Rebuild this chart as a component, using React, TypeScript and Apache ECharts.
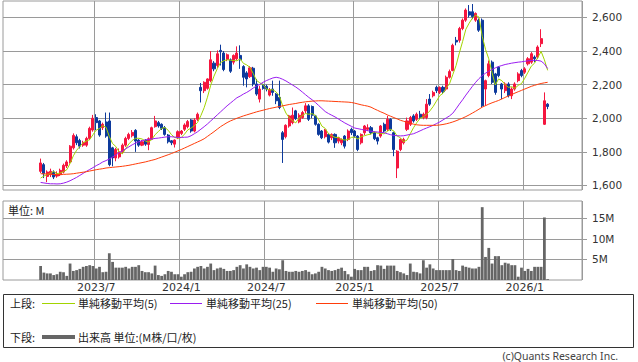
import React, { useEffect, useRef } from 'react';
import * as echarts from 'echarts';

// ---- data (weekly candles, first week 2023-03-06) ----
const FIRST_WEEK = '2023-03-06';
const PAD_BEFORE = 11;
const PAD_AFTER = 10;

const opens = [
  1684, 1724, 1654, 1664, 1680, 1656, 1664, 1680, 1716, 1740,
  1824, 1890, 1868, 1840, 1840, 1880, 1930, 2004, 1984, 1944,
  1978, 1984, 1824, 1764, 1770, 1800, 1840, 1880, 1896, 1928,
  1870, 1840, 1870, 1844, 1874, 1950, 1974, 1964, 1944, 1900,
  1866, 1846, 1884, 1910, 1934, 1950, 1990, 1924, 1994, 2184,
  2164, 2178, 2224, 2328, 2314, 2404, 2388, 2350, 2348, 2334,
  2354, 2374, 2308, 2270, 2248, 2298, 2204, 2114, 2198, 2190,
  2138, 2174, 2144, 2124, 1914, 1890, 1954, 1974, 2044, 1978,
  2004, 2044, 2074, 2070, 2014, 1964, 1924, 1890, 1904, 1884,
  1904, 1864, 1854, 1894, 1874, 1934, 1924, 1894, 1854, 1914,
  1934, 1944, 1914, 1884, 1894, 1964, 1934, 1994, 1914, 1704,
  1814, 1854, 1934, 1964, 2014, 1994, 2024, 2004, 2004, 2114,
  2134, 2184, 2154, 2184, 2174, 2244, 2284, 2464, 2464, 2534,
  2584, 2634, 2634, 2584, 2584, 2584, 2174, 2254, 2334, 2264,
  2304, 2204, 2164, 2204, 2134, 2174, 2224, 2284, 2274, 2324,
  2334, 2364, 2364, 2444, 1964, 2084,
];
const closes = [
  1734, 1670, 1680, 1684, 1650, 1668, 1690, 1720, 1740, 1834,
  1898, 1854, 1834, 1856, 1880, 1940, 2000, 1974, 1900, 1964,
  1894, 1724, 1764, 1814, 1800, 1840, 1880, 1904, 1916, 1864,
  1840, 1860, 1846, 1878, 1944, 1984, 1954, 1940, 1904, 1860,
  1854, 1870, 1920, 1924, 1960, 1980, 1924, 1990, 2024, 2164,
  2214, 2234, 2348, 2294, 2384, 2396, 2290, 2378, 2280, 2374,
  2388, 2348, 2244, 2234, 2300, 2204, 2144, 2174, 2178, 2174,
  2170, 2154, 2104, 2064, 1874, 1958, 2014, 2018, 1998, 2018,
  2034, 2074, 1994, 2018, 1964, 1904, 1884, 1930, 1858, 1904,
  1854, 1884, 1874, 1834, 1924, 1914, 1894, 1814, 1904, 1954,
  1944, 1914, 1878, 1864, 1954, 1924, 1994, 1934, 1814, 1804,
  1874, 1874, 1984, 2004, 1984, 2024, 2004, 2024, 2084, 2084,
  2154, 2164, 2184, 2158, 2244, 2278, 2434, 2454, 2534, 2584,
  2644, 2614, 2604, 2624, 2524, 2074, 2224, 2324, 2214, 2154,
  2254, 2174, 2204, 2134, 2174, 2204, 2264, 2254, 2294, 2354,
  2384, 2354, 2424, 2474, 2104, 2070,
];
const lows = [
  1674, 1644, 1620, 1650, 1638, 1646, 1656, 1672, 1704, 1730,
  1814, 1840, 1820, 1830, 1830, 1870, 1920, 1930, 1890, 1930,
  1884, 1714, 1714, 1744, 1760, 1790, 1830, 1870, 1886, 1800,
  1830, 1834, 1836, 1810, 1870, 1944, 1944, 1930, 1896, 1850,
  1840, 1826, 1876, 1900, 1924, 1940, 1914, 1916, 1984, 2094,
  2150, 2170, 2214, 2280, 2300, 2314, 2280, 2340, 2270, 2320,
  2344, 2294, 2194, 2184, 2240, 2190, 2134, 2094, 2170, 2160,
  2130, 2134, 2084, 2054, 1734, 1880, 1944, 1964, 1990, 1970,
  1996, 2030, 1984, 2000, 1956, 1896, 1876, 1880, 1850, 1870,
  1824, 1850, 1840, 1820, 1864, 1900, 1884, 1804, 1844, 1900,
  1924, 1904, 1870, 1844, 1884, 1914, 1924, 1924, 1774, 1644,
  1804, 1844, 1924, 1954, 1974, 1984, 1994, 1994, 1994, 2074,
  2124, 2150, 2144, 2144, 2164, 2236, 2280, 2434, 2450, 2524,
  2574, 2600, 2590, 2574, 2514, 2064, 2074, 2244, 2204, 2140,
  2244, 2114, 2150, 2124, 2114, 2164, 2214, 2244, 2264, 2314,
  2324, 2334, 2354, 2424, 1960, 2054,
];
const highs = [
  1760, 1734, 1690, 1700, 1690, 1684, 1700, 1730, 1750, 1840,
  1910, 1904, 1878, 1866, 1890, 1950, 2020, 2024, 1990, 1974,
  2034, 2034, 1830, 1824, 1820, 1850, 1890, 1914, 1930, 1935,
  1876, 1870, 1876, 1886, 1950, 2014, 1984, 1970, 1954, 1906,
  1870, 1874, 1928, 1930, 1970, 1990, 1996, 2000, 2034, 2210,
  2220, 2238, 2400, 2340, 2404, 2438, 2400, 2386, 2356, 2380,
  2428, 2434, 2316, 2280, 2310, 2306, 2234, 2194, 2206, 2200,
  2180, 2224, 2150, 2224, 1924, 1964, 2020, 2064, 2050, 2030,
  2044, 2090, 2084, 2076, 2020, 1970, 1930, 1936, 1910, 1910,
  1910, 1890, 1880, 1900, 1934, 1944, 1930, 1900, 1910, 1960,
  1964, 1954, 1920, 1890, 1960, 1974, 2014, 2000, 1920, 1810,
  1880, 1884, 2004, 2014, 2024, 2034, 2044, 2034, 2114, 2144,
  2164, 2194, 2190, 2194, 2254, 2290, 2444, 2484, 2544, 2594,
  2654, 2674, 2680, 2630, 2594, 2594, 2230, 2344, 2344, 2270,
  2310, 2210, 2214, 2214, 2184, 2214, 2274, 2294, 2304, 2364,
  2394, 2374, 2434, 2530, 2154, 2090,
];
// volume in millions of shares
const volumesM = [
  3.4, 1.8, 1.6, 1.6, 1.2, 1.4, 2.0, 1.9, 1.0, 4.0,
  2.2, 2.4, 2.7, 3.2, 3.4, 3.6, 3.4, 2.8, 3.2, 1.9,
  2.0, 6.5, 4.4, 3.0, 3.0, 3.0, 3.2, 2.8, 3.2, 3.2,
  3.6, 2.2, 1.9, 1.9, 1.6, 3.5, 1.2, 1.0, 1.4, 2.2,
  2.0, 1.4, 1.4, 0.8, 1.4, 1.9, 2.0, 2.8, 3.2, 3.4,
  2.8, 3.2, 4.0, 2.4, 2.8, 3.0, 2.7, 2.2, 2.2, 2.4,
  3.2, 3.6, 2.8, 3.8, 3.2, 2.8, 3.0, 2.4, 3.2, 3.2,
  3.0, 2.0, 2.8, 2.6, 4.8, 2.2, 2.0, 2.0, 2.2, 2.0,
  2.2, 2.4, 2.0, 1.4, 1.6, 2.0, 3.2, 2.8, 2.4, 2.2,
  2.4, 2.7, 3.0, 2.2, 1.4, 0.8, 2.7, 2.4, 2.4, 3.2,
  3.2, 2.2, 2.4, 3.6, 3.5, 2.7, 3.5, 3.5, 3.5, 2.2,
  1.9, 1.6, 1.2, 4.0, 2.0, 1.9, 1.6, 4.8, 3.0, 3.8,
  2.8, 2.4, 2.4, 2.4, 2.4, 2.4, 5.1, 2.4, 2.2, 3.5,
  3.2, 3.0, 2.8, 2.8, 3.2, 17.7, 5.6, 7.8, 4.0, 5.8,
  5.8, 3.6, 4.2, 4.0, 3.6, 3.6, 0.8, 3.0, 2.2, 2.7,
  2.2, 3.2, 3.2, 3.2, 15.2, 0.2,
];
// first four 5-week averages (they include weeks before the window)
const ma5Lead = [1644, 1656, 1664, 1672];
const ma25 = [
  1618, 1615, 1612, 1610, 1610, 1609, 1610, 1614, 1620, 1628,
  1638, 1648, 1660, 1672, 1684, 1695, 1706, 1718, 1728, 1740,
  1748, 1758, 1770, 1782, 1795, 1806, 1818, 1830, 1842, 1852,
  1860, 1866, 1871, 1874, 1877, 1880, 1882, 1885, 1888, 1890,
  1890, 1888, 1886, 1886, 1887, 1888, 1896, 1908, 1920, 1935,
  1950, 1966, 1984, 2002, 2020, 2038, 2056, 2074, 2090, 2106,
  2122, 2132, 2144, 2154, 2166, 2180, 2192, 2202, 2214, 2224,
  2232, 2240, 2244, 2240, 2232, 2222, 2210, 2198, 2186, 2172,
  2156, 2140, 2124, 2110, 2094, 2076, 2058, 2040, 2028, 2018,
  2008, 1996, 1984, 1972, 1962, 1952, 1942, 1938, 1934, 1930,
  1926, 1923, 1920, 1918, 1916, 1914, 1908, 1902, 1898, 1896,
  1895, 1896, 1900, 1904, 1908, 1916, 1925, 1934, 1942, 1950,
  1958, 1968, 1978, 1990, 2002, 2014, 2030, 2056, 2084, 2110,
  2138, 2164, 2190, 2214, 2236, 2254, 2268, 2280, 2290, 2300,
  2308, 2314, 2320, 2324, 2328, 2331, 2334, 2336, 2339, 2342,
  2344, 2345, 2344, 2340, 2324, 2296,
];
const ma50 = [
  1670, 1669, 1668, 1667, 1666, 1665, 1665, 1666, 1667, 1668,
  1670, 1673, 1676, 1679, 1682, 1686, 1690, 1694, 1697, 1700,
  1704, 1706, 1708, 1710, 1712, 1714, 1717, 1720, 1724, 1728,
  1732, 1736, 1740, 1745, 1750, 1755, 1762, 1769, 1776, 1783,
  1790, 1798, 1806, 1814, 1823, 1832, 1841, 1850, 1859, 1868,
  1878, 1892, 1906, 1920, 1935, 1950, 1962, 1974, 1984, 1992,
  2000, 2007, 2014, 2020, 2026, 2032, 2038, 2043, 2048, 2053,
  2058, 2062, 2066, 2070, 2074, 2078, 2082, 2085, 2088, 2092,
  2095, 2098, 2100, 2102, 2103, 2104, 2104, 2103, 2102, 2101,
  2100, 2099, 2098, 2097, 2096, 2094, 2090, 2085, 2080, 2076,
  2072, 2066, 2056, 2047, 2038, 2030, 2020, 2012, 2004, 1996,
  1988, 1982, 1975, 1970, 1965, 1961, 1959, 1958, 1958, 1958,
  1958, 1958, 1960, 1963, 1967, 1972, 1978, 1985, 1993, 2001,
  2010, 2020, 2031, 2042, 2054, 2066, 2075, 2084, 2092, 2099,
  2106, 2115, 2124, 2133, 2141, 2150, 2158, 2166, 2174, 2182,
  2190, 2196, 2202, 2207, 2211, 2214,
];
const priceTicks = [1600, 1800, 2000, 2200, 2400, 2600];
const volumeTicks = [5, 10, 15];
const PRICE_MIN = 1573;
const PRICE_MAX = 2698;
const VOL_MAX = 19.2;

const UP = '#f5163f';
const DOWN = '#0d3a9c';
const C_MA5 = '#a2d400';
const C_MA25 = '#9a1df0';
const C_MA50 = '#ff3d0a';
const GRID = '#9a9a9a';

function buildWeeks() {
  const total = PAD_BEFORE + opens.length + PAD_AFTER;
  const week = 7 * 86400000;
  const t0 = Date.parse(FIRST_WEEK + 'T00:00:00Z') - PAD_BEFORE * week;
  const cats: string[] = [];
  const marks: string[] = [];
  let prev = -1;
  for (let k = 0; k < total; k++) {
    const d = new Date(t0 + k * week);
    const y = d.getUTCFullYear();
    const m = d.getUTCMonth() + 1;
    cats.push(`${y}/${m}/${d.getUTCDate()}`);
    const first = prev !== -1 && m !== prev && (m === 1 || m === 7);
    marks.push(first && k >= PAD_BEFORE ? `${y}/${m}` : '');
    prev = m;
  }
  return { cats, marks };
}

export default function App() {
  const ref = useRef<HTMLDivElement>(null);
  useEffect(() => {
    if (!ref.current) return;
    const chart = echarts.init(ref.current, undefined, { renderer: 'svg' });
    const { cats, marks } = buildWeeks();
    const isMark = (idx: number) => marks[idx] !== '';
    const candle = opens.map((o, i) => [i + PAD_BEFORE, o, closes[i], lows[i], highs[i]]);
    const ma5 = closes.map((_, i) =>
      i < 4 ? ma5Lead[i] : closes.slice(i - 4, i + 1).reduce((a, b) => a + b, 0) / 5
    );
    const pts = (arr: number[]) => arr.map((v, i) => [i + PAD_BEFORE, v]);
    const fontAxis = 'DejaVu Sans';
    const fontJp = 'Noto Sans CJK JP';

    const xBase = {
      type: 'category',
      data: cats,
      boundaryGap: true,
      axisLine: { show: false },
      axisTick: { show: false },
      splitLine: { show: true, interval: (idx: number) => isMark(idx), lineStyle: { color: GRID, width: 1 } },
    };

    const maLine = (data: number[], color: string) => ({
      type: 'line',
      xAxisIndex: 0,
      yAxisIndex: 0,
      data: pts(data),
      symbol: 'none',
      showSymbol: false,
      lineStyle: { color, width: 1 },
      silent: true,
      z: 3,
    });

    chart.setOption({
      animation: false,
      grid: [
        { left: 3, right: 56, top: 1, height: 189, show: true, borderColor: GRID, borderWidth: 1 },
        { left: 3, right: 56, top: 201, height: 79, show: true, borderColor: GRID, borderWidth: 1 },
      ],
      xAxis: [
        { ...xBase, gridIndex: 0, axisLabel: { show: false } },
        {
          ...xBase,
          gridIndex: 1,
          axisLabel: {
            show: true,
            interval: (idx: number) => isMark(idx),
            formatter: (_v: string, idx: number) => marks[idx],
            color: '#333',
            fontSize: 11,
            fontFamily: fontAxis,
            margin: 2,
          },
        },
      ],
      yAxis: [
        {
          type: 'value',
          gridIndex: 0,
          position: 'right',
          min: PRICE_MIN,
          max: PRICE_MAX,
          axisLine: { show: false },
          axisTick: { show: true, length: 5, customValues: priceTicks, lineStyle: { color: GRID } },
          axisLabel: {
            customValues: priceTicks,
            formatter: (v: number) => v.toLocaleString('en-US'),
            color: '#333',
            fontSize: 10.5,
            fontFamily: fontAxis,
            margin: 10,
          },
          splitLine: { show: true, lineStyle: { color: GRID, width: 1 } },
        },
        {
          type: 'value',
          gridIndex: 1,
          position: 'right',
          min: 0,
          max: VOL_MAX,
          axisLine: { show: false },
          axisTick: { show: true, length: 5, customValues: volumeTicks, lineStyle: { color: GRID } },
          axisLabel: {
            customValues: volumeTicks,
            formatter: (v: number) => `${v}M`,
            color: '#333',
            fontSize: 10.5,
            fontFamily: fontAxis,
            margin: 10,
          },
          splitLine: { show: true, lineStyle: { color: GRID, width: 1 } },
        },
      ],
      series: [
        {
          type: 'candlestick',
          xAxisIndex: 0,
          yAxisIndex: 0,
          data: candle,
          encode: { x: 0, y: [1, 2, 3, 4] },
          barWidth: '78%',
          itemStyle: { color: UP, color0: DOWN, borderColor: UP, borderColor0: DOWN, borderWidth: 1 },
          silent: true,
        },
        maLine(ma5, C_MA5),
        maLine(ma25, C_MA25),
        maLine(ma50, C_MA50),
        {
          type: 'bar',
          xAxisIndex: 1,
          yAxisIndex: 1,
          data: pts(volumesM),
          barWidth: '85%',
          itemStyle: { color: '#666666' },
          silent: true,
        },
      ],
      graphic: [
        {
          type: 'text',
          left: 8,
          top: 204,
          style: { text: '単位: M', font: `11px "${fontJp}"`, fill: '#222' },
        },
        {
          type: 'rect',
          shape: { x: 3.5, y: 294.5, width: 630, height: 53 },
          style: { fill: 'none', stroke: '#333', lineWidth: 1 },
        },
        { type: 'text', x: 10, y: 303, style: { text: '上段:', font: `11px "${fontJp}"`, fill: '#222', verticalAlign: 'middle' } },
        { type: 'line', shape: { x1: 42, y1: 303.5, x2: 75, y2: 303.5 }, style: { stroke: C_MA5, lineWidth: 1 } },
        { type: 'text', x: 78, y: 303, style: { text: '単純移動平均(5)', font: `11px "${fontJp}"`, fill: '#222', verticalAlign: 'middle' } },
        { type: 'line', shape: { x1: 170, y1: 303.5, x2: 202, y2: 303.5 }, style: { stroke: C_MA25, lineWidth: 1 } },
        { type: 'text', x: 206, y: 303, style: { text: '単純移動平均(25)', font: `11px "${fontJp}"`, fill: '#222', verticalAlign: 'middle' } },
        { type: 'line', shape: { x1: 316, y1: 303.5, x2: 348, y2: 303.5 }, style: { stroke: C_MA50, lineWidth: 1 } },
        { type: 'text', x: 352, y: 303, style: { text: '単純移動平均(50)', font: `11px "${fontJp}"`, fill: '#222', verticalAlign: 'middle' } },
        { type: 'text', x: 10, y: 337, style: { text: '下段:', font: `11px "${fontJp}"`, fill: '#222', verticalAlign: 'middle' } },
        { type: 'line', shape: { x1: 42, y1: 337, x2: 75, y2: 337 }, style: { stroke: '#666666', lineWidth: 4 } },
        { type: 'text', x: 78, y: 337, style: { text: '出来高 単位:(M株/口/枚)', font: `11px "${fontJp}"`, fill: '#222', verticalAlign: 'middle' } },
        {
          type: 'text',
          x: 618,
          y: 356,
          style: { text: '(c)Quants Research Inc.', font: '10.5px "Noto Sans"', fill: '#444', align: 'right', verticalAlign: 'middle' },
        },
      ],
    });
    return () => chart.dispose();
  }, []);
  return (
    <div
      ref={ref}
      style={{ position: 'fixed', left: 0, top: 0, width: 638, height: 362, background: '#fff' }}
    />
  );
}
